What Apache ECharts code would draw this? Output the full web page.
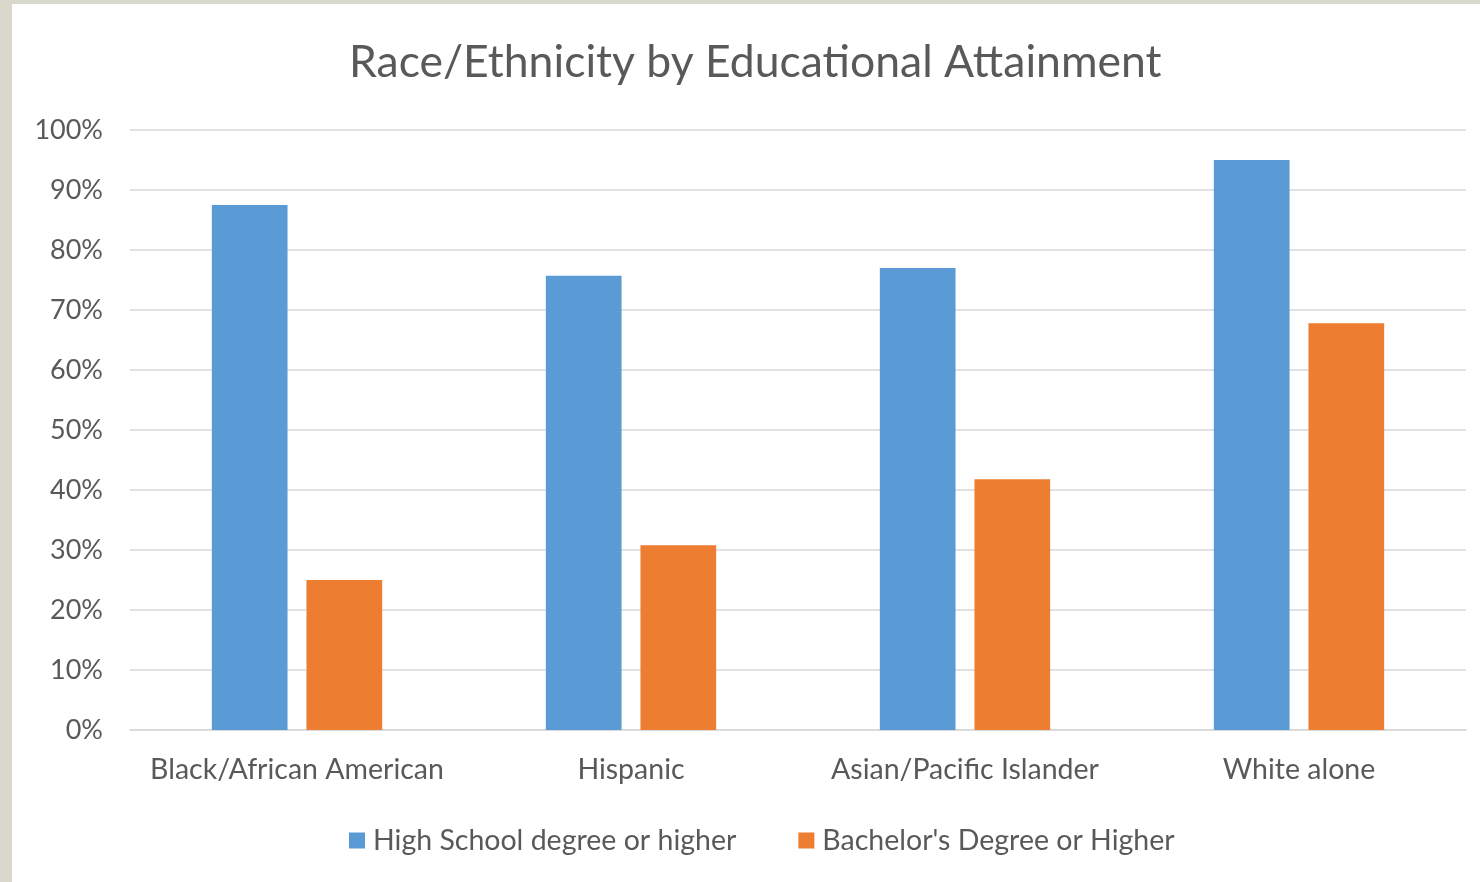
<!DOCTYPE html>
<html>
<head>
<meta charset="utf-8">
<script src="https://cdn.jsdelivr.net/npm/echarts@6/dist/echarts.min.js"></script>
<style>
html,body{margin:0;padding:0;width:1480px;height:882px;background:#d8d8cc;overflow:hidden;}
#chart{position:absolute;left:12px;top:4px;width:1468px;height:878px;background:#ffffff;}
</style>
</head>
<body>
<div id="chart"></div>
<script>
const categories = ["Black/African American", "Hispanic", "Asian/Pacific Islander", "White alone"];
const seriesNames = ["High School degree or higher", "Bachelor's Degree or Higher"];
const highSchool = [87.5, 75.7, 77.0, 95.0];
const bachelor = [25.0, 30.8, 41.8, 67.8];
const yTicks = [0, 10, 20, 30, 40, 50, 60, 70, 80, 90, 100];

const FONT = 'Lato';
const chart = echarts.init(document.getElementById('chart'), null, {renderer: 'canvas'});
chart.setOption({
  backgroundColor: '#ffffff',
  animation: false,
  title: {
    text: 'Race/Ethnicity by Educational Attainment',
    left: 332,
    top: 31,
    textStyle: {fontFamily: FONT, fontSize: 44.5, fontWeight: 'normal', color: '#595959'}
  },
  legend: {
    bottom: 22,
    left: 332,
    itemWidth: 16,
    itemHeight: 16,
    itemGap: 62,
    icon: 'rect',
    textStyle: {fontFamily: FONT, fontSize: 28.5, color: '#595959', padding: [0, 0, 0, 3]},
    data: seriesNames
  },
  grid: {left: 118, top: 126, width: 1336, height: 600, containLabel: false},
  xAxis: {
    type: 'category',
    data: categories,
    axisLine: {show: true, lineStyle: {color: '#d9d9d9', width: 1.5}},
    axisTick: {show: false},
    axisLabel: {fontFamily: FONT, fontSize: 28.5, color: '#595959', margin: 25, interval: 0}
  },
  yAxis: {
    type: 'value',
    min: yTicks[0],
    max: yTicks[yTicks.length - 1],
    interval: 10,
    axisLine: {show: false},
    axisTick: {show: false},
    splitLine: {lineStyle: {color: '#d9d9d9', width: 1.5}},
    axisLabel: {fontFamily: FONT, fontSize: 27, color: '#595959', margin: 27, formatter: v => v + '%'}
  },
  series: [
    {name: seriesNames[0], type: 'bar', data: highSchool, itemStyle: {color: '#5b9bd5'}, barGap: '25%', barCategoryGap: '49%'},
    {name: seriesNames[1], type: 'bar', data: bachelor, itemStyle: {color: '#ed7d31'}, barGap: '25%', barCategoryGap: '49%'}
  ]
});
</script>
</body>
</html>
